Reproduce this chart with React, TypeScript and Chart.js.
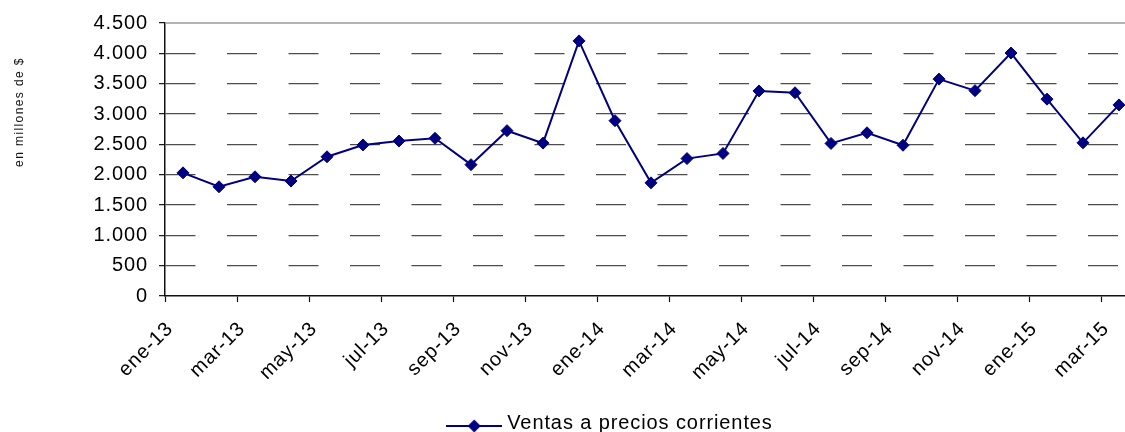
import React, { useEffect, useRef } from 'react';
import { Chart, registerables } from 'chart.js';

Chart.register(...registerables);

const FONT = '"Liberation Sans", Arial, Helvetica, sans-serif';

const months = [
  'ene-13', 'feb-13', 'mar-13', 'abr-13', 'may-13', 'jun-13', 'jul-13', 'ago-13', 'sep-13', 'oct-13', 'nov-13', 'dic-13',
  'ene-14', 'feb-14', 'mar-14', 'abr-14', 'may-14', 'jun-14', 'jul-14', 'ago-14', 'sep-14', 'oct-14', 'nov-14', 'dic-14',
  'ene-15', 'feb-15', 'mar-15',
];

const ventas = [
  2030, 1800, 1965, 1895, 2295, 2490, 2555, 2600, 2165, 2725, 2520, 4205,
  2890, 1865, 2265, 2350, 3380, 3350, 2515, 2690, 2485, 3575, 3385, 4005,
  3245, 2525, 3150,
];

const tickLabels = [
  'ene-13', 'mar-13', 'may-13', 'jul-13', 'sep-13', 'nov-13',
  'ene-14', 'mar-14', 'may-14', 'jul-14', 'sep-14', 'nov-14',
  'ene-15', 'mar-15',
];

const seriesName = 'Ventas a precios corrientes';
const yTitle = 'en millones de $';

const NAVY = '#000080';

function fmt(v: number) {
  return Math.round(v).toString().replace(/\B(?=(\d{3})+(?!\d))/g, '.');
}

export default function App() {
  const ref = useRef<HTMLCanvasElement>(null);

  useEffect(() => {
    const canvas = ref.current;
    if (!canvas) return;

    // legend sample: line with a diamond marker
    const sample = document.createElement('canvas');
    sample.width = 56;
    sample.height = 24;
    const sctx = sample.getContext('2d')!;
    const ly = 15;
    sctx.strokeStyle = NAVY;
    sctx.lineWidth = 2;
    sctx.beginPath();
    sctx.moveTo(0, ly);
    sctx.lineTo(56, ly);
    sctx.stroke();
    sctx.fillStyle = NAVY;
    sctx.beginPath();
    sctx.moveTo(28, ly - 6.5);
    sctx.lineTo(34.5, ly);
    sctx.lineTo(28, ly + 6.5);
    sctx.lineTo(21.5, ly);
    sctx.closePath();
    sctx.fill();

    const SPACING = '0.9px';
    const spacingPlugin = {
      id: 'spacing',
      beforeLayout(c: any) {
        (c.ctx as any).letterSpacing = SPACING;
      },
      afterLayout(c: any) {
        const lg = c.legend;
        if (lg) lg.left += 80;
      },
      beforeDraw(c: any) {
        (c.ctx as any).letterSpacing = SPACING;
      },
    };

    const framePlugin = {
      id: 'frame',
      beforeDatasetsDraw(c: any) {
        const { ctx, chartArea } = c;
        ctx.save();
        ctx.strokeStyle = '#9a9a9a';
        ctx.lineWidth = 1.5;
        ctx.beginPath();
        ctx.moveTo(chartArea.left, chartArea.top);
        ctx.lineTo(chartArea.right, chartArea.top);
        ctx.stroke();
        ctx.restore();
      },
      afterDraw(c: any) {
        const { ctx } = c;
        ctx.save();
        (ctx as any).letterSpacing = '1.4px';
        ctx.translate(20, 112);
        ctx.rotate(-Math.PI / 2);
        ctx.font = `12px ${FONT}`;
        ctx.fillStyle = '#111';
        ctx.textAlign = 'center';
        ctx.textBaseline = 'middle';
        ctx.fillText(yTitle, 0, 0);
        ctx.restore();
      },
    };

    const chart = new Chart(canvas, {
      type: 'line',
      data: {
        datasets: [
          {
            label: seriesName,
            data: ventas.map((v, i) => ({ x: i, y: v })),
            borderColor: NAVY,
            backgroundColor: NAVY,
            borderWidth: 2,
            pointStyle: 'rectRot',
            pointRadius: 6,
            pointBorderWidth: 1,
            pointBackgroundColor: NAVY,
            pointBorderColor: NAVY,
            tension: 0,
          },
        ],
      },
      options: {
        responsive: false,
        animation: false,
        devicePixelRatio: 1,
        layout: { padding: { top: 23, left: 0, right: 0, bottom: 0 } },
        plugins: {
          tooltip: { enabled: false },
          legend: {
            position: 'bottom',
            labels: {
              font: { family: FONT, size: 20 },
              color: '#000',
              usePointStyle: true,
              pointStyleWidth: 46,
              padding: 10,
              generateLabels: () => [
                {
                  text: seriesName,
                  pointStyle: sample as any,
                  fillStyle: NAVY,
                  strokeStyle: NAVY,
                  lineWidth: 0,
                  hidden: false,
                  datasetIndex: 0,
                  fontColor: '#000',
                } as any,
              ],
            },
          },
        },
        scales: {
          x: {
            type: 'linear',
            min: -0.5,
            max: 26.5,
            afterBuildTicks: (scale: any) => {
              scale.ticks = tickLabels.map((_, k) => ({ value: -0.5 + 2 * k }));
            },
            afterFit: (scale: any) => {
              scale.height = 107;
              scale.paddingLeft = 0;
              scale.paddingRight = 0;
            },
            ticks: {
              autoSkip: false,
              maxRotation: 45,
              minRotation: 45,
              padding: 15,
              labelOffset: 5,
              color: '#000',
              font: { family: FONT, size: 20 },
              callback: (_v: any, i: number) => tickLabels[i],
            },
            grid: {
              drawOnChartArea: false,
              drawTicks: true,
              tickLength: 6,
              tickColor: '#111',
              tickWidth: 1.2,
            },
            border: { display: true, color: '#111', width: 1.5 },
          },
          y: {
            type: 'linear',
            min: 0,
            max: 4500,
            afterFit: (scale: any) => {
              scale.width = 165;
            },
            ticks: {
              stepSize: 500,
              padding: 11,
              color: '#000',
              font: { family: FONT, size: 20 },
              callback: (v: any) => fmt(Number(v)),
            },
            grid: {
              color: (ctx: any) =>
                ctx.tick && (ctx.tick.value === 0 || ctx.tick.value === 4500) ? 'rgba(0,0,0,0)' : '#4d4d4d',
              lineWidth: 1.3,
              drawTicks: true,
              tickLength: 6,
              tickColor: '#111',
              tickWidth: 1.2,
            },
            border: { display: true, color: '#111', width: 1.5, dash: [30, 31.5] },
          },
        },
      },
      plugins: [spacingPlugin, framePlugin],
    });

    return () => chart.destroy();
  }, []);

  return (
    <div
      style={{
        position: 'absolute',
        left: 0,
        top: 0,
        width: 1125,
        height: 432,
        overflow: 'hidden',
        background: '#fff',
      }}
    >
      <canvas ref={ref} width={1144} height={443} style={{ display: 'block' }} />
    </div>
  );
}
